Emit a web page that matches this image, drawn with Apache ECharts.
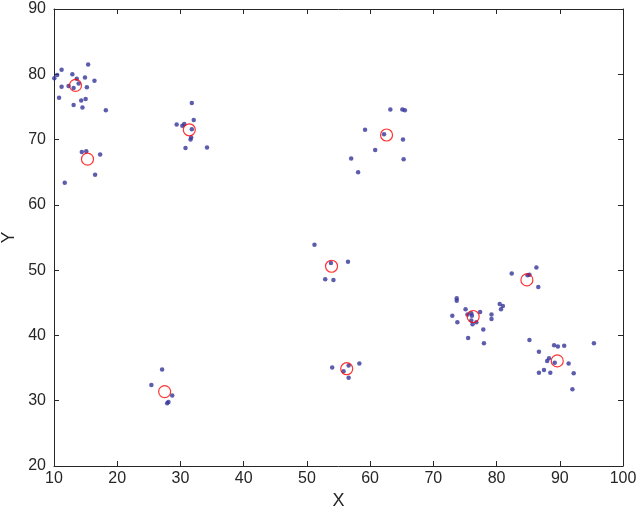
<!DOCTYPE html>
<html>
<head>
<meta charset="utf-8">
<script src="https://cdn.jsdelivr.net/npm/echarts@6/dist/echarts.min.js"></script>
<style>html,body{margin:0;padding:0;background:#fff}#c{width:640px;height:510px}</style>
</head>
<body>
<div id="c"></div>
<script>
const pointX = [10.05,10.5,11.2,12.9,13.6,14.9,15.4,16.4,11.2,12.3,13.1,13.9,15.2,10.8,13.1,14.3,15.0,14.5,18.2,
  14.4,15.1,17.3,16.5,11.7,
  31.8,29.4,30.3,30.6,32.1,31.8,31.7,31.6,30.8,34.2,
  63.2,65.1,65.5,59.2,62.2,65.2,60.8,57.0,65.3,58.1,
  51.2,53.8,56.5,52.9,54.2,
  54.0,56.6,58.3,55.8,56.6,
  27.1,25.4,28.7,28.1,27.9,
  73.7,73.7,75.1,73.0,75.4,76.0,76.1,77.4,73.8,76.0,76.2,76.8,79.2,79.2,80.5,81.0,80.7,77.9,75.5,78.0,
  82.4,86.3,84.9,85.2,86.6,
  85.2,89.1,89.7,90.7,95.4,86.7,88.3,88.0,89.2,91.4,92.2,86.7,87.5,88.5,92.0];
const pointY = [79.4,79.9,80.7,80.0,79.3,79.5,81.5,79.0,78.1,78.2,77.9,78.6,78.0,76.4,75.3,76.0,76.2,74.9,74.5,
  68.1,68.2,67.7,64.6,63.4,
  75.6,72.3,72.1,72.4,73.0,71.6,70.3,70.0,68.7,68.8,
  74.6,74.6,74.5,71.5,70.8,70.0,68.4,67.1,67.0,65.0,
  53.9,51.1,51.3,48.6,48.5,
  35.1,35.4,35.7,34.5,33.5,
  34.8,32.4,30.8,29.8,29.6,
  45.7,45.3,44.0,43.0,43.2,43.4,43.0,43.6,42.0,42.3,41.7,42.0,43.2,42.5,44.8,44.5,44.0,40.9,39.6,38.8,
  49.5,50.4,49.2,49.3,47.4,
  39.3,38.5,38.3,38.4,38.8,37.5,36.5,36.1,35.8,35.7,34.2,34.3,34.7,34.3,31.75];
const centerX = [13.4,15.3,31.4,62.6,53.9,56.3,27.5,76.3,84.8,89.6];
const centerY = [78.3,67.0,71.5,70.7,50.6,34.9,31.4,42.9,48.5,36.1];
const xTicks = [10,20,30,40,50,60,70,80,90,100];
const yTicks = [20,30,40,50,60,70,80,90];

const pts = pointX.map((x,i)=>[x,pointY[i]]);
const ctr = centerX.map((x,i)=>[x,centerY[i]]);
const txt = '#262626', ln = '#262626';
const font = {fontFamily:'"Liberation Sans", Arial, sans-serif', fontSize:16, color:txt};
const baseAxis = {
  axisLine:{show:true,onZero:false,lineStyle:{color:ln,width:1}},
  axisTick:{show:true,inside:true,length:5,lineStyle:{color:ln}},
  splitLine:{show:false}
};
const chart = echarts.init(document.getElementById('c'));
chart.setOption({
  animation:false,
  backgroundColor:'#fff',
  grid:{left:54,right:17,top:9,bottom:44,containLabel:false,outerBoundsMode:'none'},
  xAxis:[
    Object.assign({type:'value',min:xTicks[0],max:xTicks[xTicks.length-1],interval:10,position:'bottom',
      name:'X',nameLocation:'middle',nameGap:26,nameMoveOverlap:false,nameTextStyle:Object.assign({},font,{fontSize:18}),
      axisLabel:Object.assign({margin:5},font)},baseAxis),
    Object.assign({type:'value',min:xTicks[0],max:xTicks[xTicks.length-1],interval:10,position:'top',
      axisLabel:{show:false}},baseAxis)
  ],
  yAxis:[
    Object.assign({type:'value',min:yTicks[0],max:yTicks[yTicks.length-1],interval:10,position:'left',
      name:'Y',nameLocation:'middle',nameGap:36,nameMoveOverlap:false,nameRotate:90,nameTextStyle:Object.assign({},font,{fontSize:18}),
      axisLabel:Object.assign({margin:8},font)},baseAxis),
    Object.assign({type:'value',min:yTicks[0],max:yTicks[yTicks.length-1],interval:10,position:'right',
      axisLabel:{show:false}},baseAxis)
  ],
  series:[
    {type:'scatter',data:pts,symbol:'circle',symbolSize:4.5,itemStyle:{color:'#35359a'},silent:true},
    {type:'scatter',data:ctr,symbol:'circle',symbolSize:12,
      itemStyle:{color:'rgba(0,0,0,0)',borderColor:'#ff0000',borderWidth:1.2},silent:true}
  ]
});
</script>
</body>
</html>
